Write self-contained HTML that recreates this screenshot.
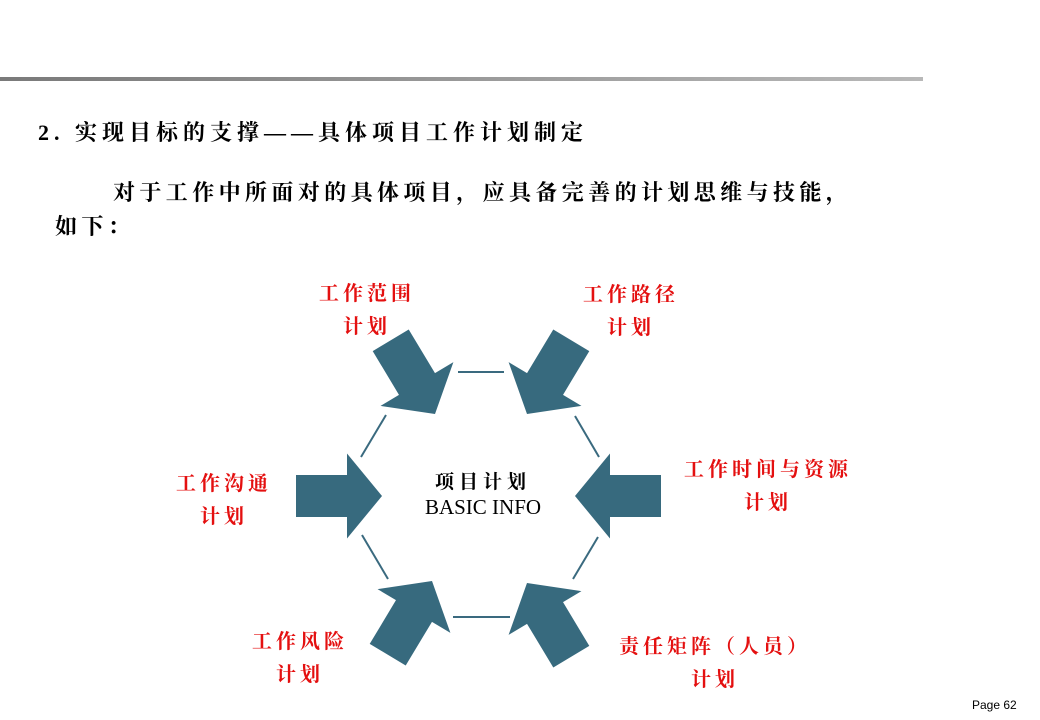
<!DOCTYPE html>
<html><head><meta charset="utf-8"><style>
body{margin:0;width:1040px;height:720px;background:#fff;overflow:hidden;position:relative;font-family:"Liberation Serif","Noto Serif CJK SC",serif}
.t{position:absolute;white-space:nowrap;font-weight:bold}
.r{color:#e41010;font-size:20px;position:absolute;text-align:center;white-space:nowrap;line-height:33px;letter-spacing:4px;font-weight:bold;font-family:"Liberation Serif","Noto Serif CJK SC",serif}
</style></head><body>
<div style="position:absolute;left:0;top:77px;width:923px;height:4px;background:linear-gradient(90deg,#7a7a7a,#b8b8b8)"></div>
<div class="t" style="left:38px;top:116px;font-size:22px;letter-spacing:5px">2. 实现目标的支撑——具体项目工作计划制定</div>
<div class="t" style="left:113px;top:176px;font-size:22px;letter-spacing:4.4px">对于工作中所面对的具体项目，应具备完善的计划思维与技能，</div>
<div class="t" style="left:55px;top:210px;font-size:22px;letter-spacing:4.4px">如下：</div>
<svg style="position:absolute;left:0;top:0" width="1040" height="720">
<defs><polygon id="a" points="0,0 -35,-42.5 -35,-21 -86,-21 -86,21 -35,21 -35,42.5" fill="#376a7e"/></defs>
<use href="#a" transform="translate(382,496)"/>
<use href="#a" transform="translate(575,496) rotate(180)"/>
<use href="#a" transform="translate(435,414) rotate(59)"/>
<use href="#a" transform="translate(527,414) rotate(121)"/>
<use href="#a" transform="translate(432,581) rotate(-59)"/>
<use href="#a" transform="translate(527,583) rotate(-121)"/>
<g stroke="#3a6a7f" stroke-width="2">
<line x1="458" y1="372" x2="504" y2="372"/>
<line x1="386" y1="415" x2="361" y2="457"/>
<line x1="575" y1="416" x2="599" y2="457"/>
<line x1="362" y1="535" x2="388" y2="579"/>
<line x1="598" y1="537" x2="573" y2="579"/>
<line x1="453" y1="617" x2="510" y2="617"/>
</g>
</svg>
<div class="t" style="left:430px;top:467px;font-size:19px;width:106px;text-align:center;letter-spacing:5px">项目计划</div>
<div class="t" style="left:400px;top:495px;font-size:21px;width:166px;text-align:center;font-weight:normal">BASIC INFO</div>
<div class="r" style="left:305px;top:278px;width:124px">工作范围<br>计划</div>
<div class="r" style="left:569px;top:279px;width:124px">工作路径<br>计划</div>
<div class="r" style="left:162px;top:468px;width:124px">工作沟通<br>计划</div>
<div class="r" style="left:676px;top:454px;width:184px">工作时间与资源<br>计划</div>
<div class="r" style="left:238px;top:626px;width:124px">工作风险<br>计划</div>
<div class="r" style="left:610px;top:631px;width:210px">责任矩阵（人员）<br>计划</div>
<div class="t" style="left:972px;top:698px;font-size:12px;font-weight:normal;font-family:'Liberation Sans',sans-serif">Page 62</div>
</body></html>
